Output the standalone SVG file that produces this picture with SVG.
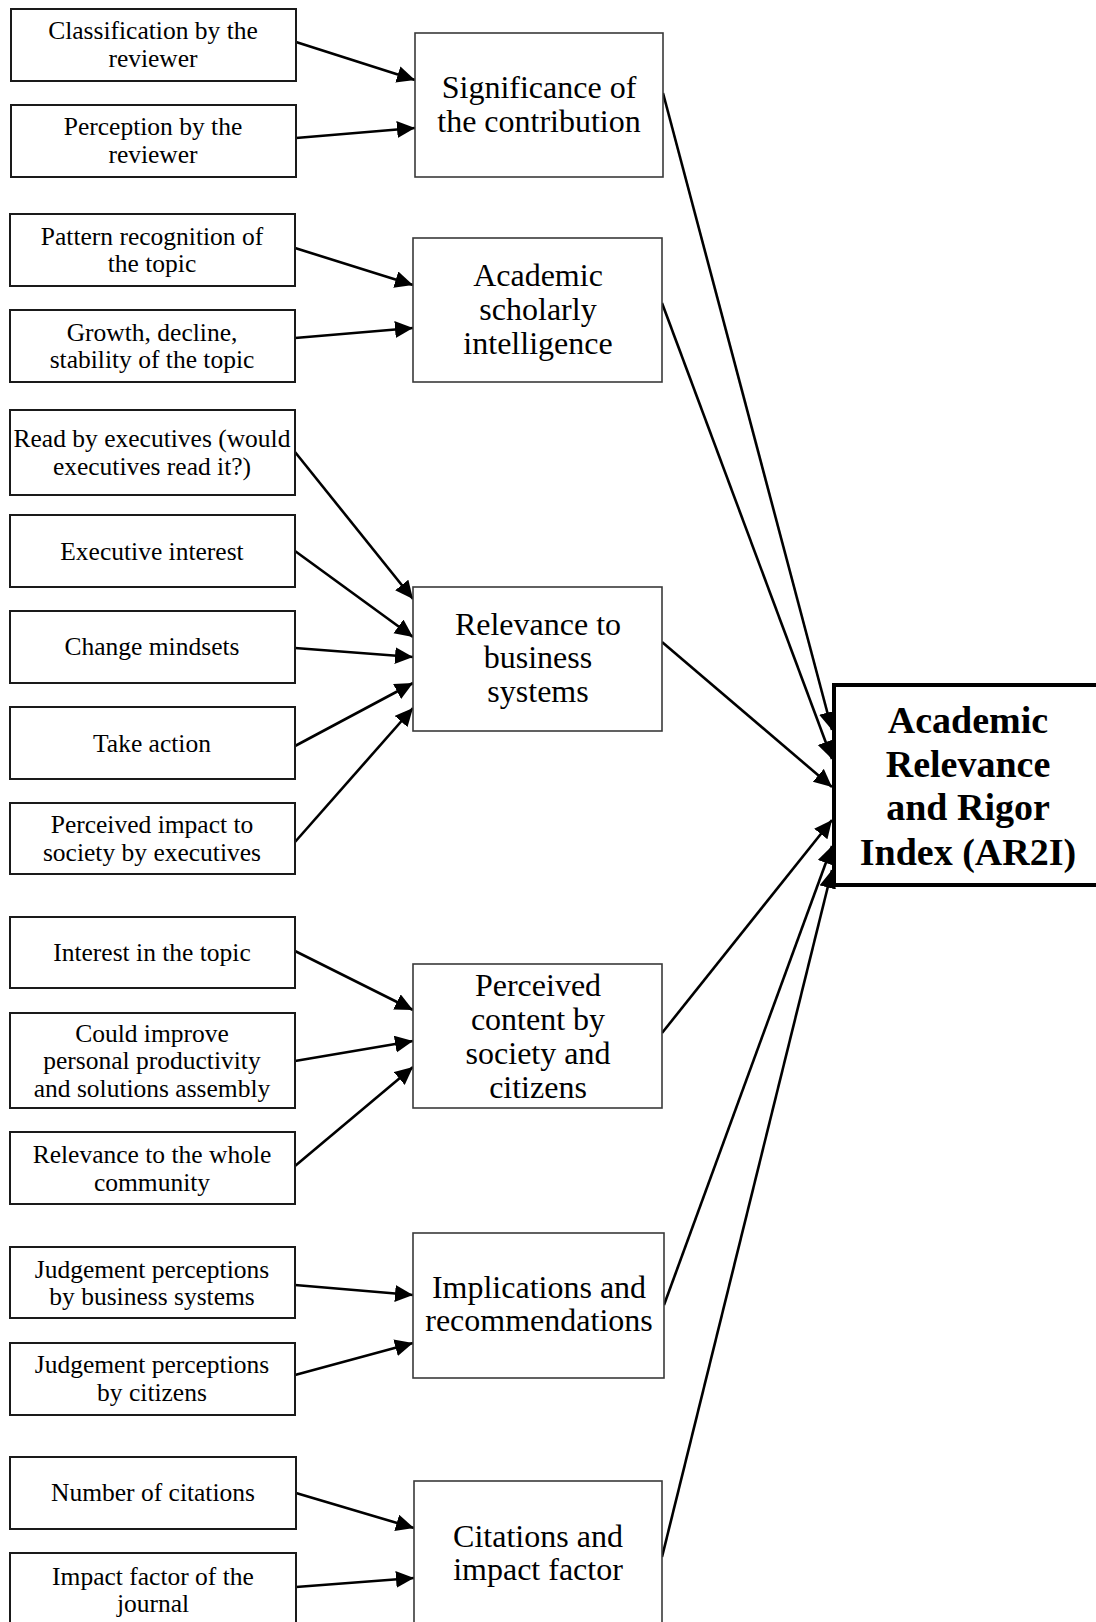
<svg xmlns="http://www.w3.org/2000/svg" width="1096" height="1622" viewBox="0 0 1096 1622">
  <style>
    .leaf { fill: #ffffff; stroke: #1a1a1a; stroke-width: 2; }
    .factor { fill: #ffffff; stroke: #3a3a3a; stroke-width: 1.6; }
    .index { fill: #ffffff; stroke: #000000; stroke-width: 4; }
    .lt { font-family: "Liberation Serif", "Times New Roman", serif; font-size: 25.5px; fill: #000; text-anchor: middle; }
    .mt { font-family: "Liberation Serif", "Times New Roman", serif; font-size: 32px; fill: #000; text-anchor: middle; }
    .it { font-family: "Liberation Serif", "Times New Roman", serif; font-size: 38px; font-weight: bold; fill: #000; text-anchor: middle; }
    .edge { stroke: #000000; stroke-width: 2.6; fill: none; marker-end: url(#head); }
  </style>
  <defs>
    <marker id="head" markerUnits="userSpaceOnUse" markerWidth="20" markerHeight="18" refX="18" refY="8.5" orient="auto">
      <path d="M0,0 L18,8.5 L0,17 z" fill="#000000"/>
    </marker>
  </defs>
  <rect width="1096" height="1622" fill="#ffffff"/>

  <!-- connectors -->
  <g id="connectors">
    <!-- into Significance of the contribution -->
    <line class="edge" x1="296" y1="42" x2="415" y2="80"/>
    <line class="edge" x1="296" y1="138" x2="415" y2="128"/>
    <!-- into Academic scholarly intelligence -->
    <line class="edge" x1="295" y1="248" x2="413" y2="285"/>
    <line class="edge" x1="295" y1="338" x2="413" y2="328"/>
    <!-- into Relevance to business systems -->
    <line class="edge" x1="295" y1="452" x2="413" y2="599"/>
    <line class="edge" x1="295" y1="551" x2="413" y2="637"/>
    <line class="edge" x1="295" y1="648" x2="413" y2="657"/>
    <line class="edge" x1="295" y1="746" x2="413" y2="683"/>
    <line class="edge" x1="295" y1="842" x2="413" y2="708"/>
    <!-- into Perceived content by society and citizens -->
    <line class="edge" x1="295" y1="951" x2="413" y2="1010"/>
    <line class="edge" x1="295" y1="1061" x2="413" y2="1041"/>
    <line class="edge" x1="295" y1="1166" x2="413" y2="1067"/>
    <!-- into Implications and recommendations -->
    <line class="edge" x1="295" y1="1285" x2="413" y2="1295"/>
    <line class="edge" x1="295" y1="1375" x2="413" y2="1343"/>
    <!-- into Citations and impact factor -->
    <line class="edge" x1="296" y1="1493" x2="414" y2="1528"/>
    <line class="edge" x1="296" y1="1587" x2="414" y2="1578"/>
    <!-- into the index -->
    <line class="edge" x1="663" y1="93" x2="832" y2="730"/>
    <line class="edge" x1="662" y1="303" x2="832" y2="759"/>
    <line class="edge" x1="662" y1="642" x2="832" y2="787"/>
    <line class="edge" x1="662" y1="1033" x2="832" y2="820"/>
    <line class="edge" x1="664" y1="1305" x2="832" y2="846"/>
    <line class="edge" x1="662" y1="1557" x2="832" y2="870"/>
  </g>

  <!-- input boxes -->
  <g id="classification-by-reviewer">
    <rect class="leaf" x="11" y="9" width="285" height="72"/>
    <text class="lt" x="153" y="39">Classification by the</text>
    <text class="lt" x="153" y="67">reviewer</text>
  </g>
  <g id="perception-by-reviewer">
    <rect class="leaf" x="11" y="105" width="285" height="72"/>
    <text class="lt" x="153" y="135">Perception by the</text>
    <text class="lt" x="153" y="163">reviewer</text>
  </g>
  <g id="pattern-recognition">
    <rect class="leaf" x="10" y="214" width="285" height="72"/>
    <text class="lt" x="152" y="245">Pattern recognition of</text>
    <text class="lt" x="152" y="272">the topic</text>
  </g>
  <g id="growth-decline">
    <rect class="leaf" x="10" y="310" width="285" height="72"/>
    <text class="lt" x="152" y="341">Growth, decline,</text>
    <text class="lt" x="152" y="368">stability of the topic</text>
  </g>
  <g id="read-by-executives">
    <rect class="leaf" x="10" y="410" width="285" height="85"/>
    <text class="lt" x="152" y="447">Read by executives (would</text>
    <text class="lt" x="152" y="475">executives read it?)</text>
  </g>
  <g id="executive-interest">
    <rect class="leaf" x="10" y="515" width="285" height="72"/>
    <text class="lt" x="152" y="560">Executive interest</text>
  </g>
  <g id="change-mindsets">
    <rect class="leaf" x="10" y="611" width="285" height="72"/>
    <text class="lt" x="152" y="655">Change mindsets</text>
  </g>
  <g id="take-action">
    <rect class="leaf" x="10" y="707" width="285" height="72"/>
    <text class="lt" x="152" y="752">Take action</text>
  </g>
  <g id="perceived-impact">
    <rect class="leaf" x="10" y="803" width="285" height="71"/>
    <text class="lt" x="152" y="833">Perceived impact to</text>
    <text class="lt" x="152" y="861">society by executives</text>
  </g>
  <g id="interest-in-topic">
    <rect class="leaf" x="10" y="917" width="285" height="71"/>
    <text class="lt" x="152" y="961">Interest in the topic</text>
  </g>
  <g id="could-improve">
    <rect class="leaf" x="10" y="1013" width="285" height="95"/>
    <text class="lt" x="152" y="1042">Could improve</text>
    <text class="lt" x="152" y="1069">personal productivity</text>
    <text class="lt" x="152" y="1097">and solutions assembly</text>
  </g>
  <g id="relevance-community">
    <rect class="leaf" x="10" y="1132" width="285" height="72"/>
    <text class="lt" x="152" y="1163">Relevance to the whole</text>
    <text class="lt" x="152" y="1191">community</text>
  </g>
  <g id="judgement-business">
    <rect class="leaf" x="10" y="1247" width="285" height="71"/>
    <text class="lt" x="152" y="1278">Judgement perceptions</text>
    <text class="lt" x="152" y="1305">by business systems</text>
  </g>
  <g id="judgement-citizens">
    <rect class="leaf" x="10" y="1343" width="285" height="72"/>
    <text class="lt" x="152" y="1373">Judgement perceptions</text>
    <text class="lt" x="152" y="1401">by citizens</text>
  </g>
  <g id="number-of-citations">
    <rect class="leaf" x="10" y="1457" width="286" height="72"/>
    <text class="lt" x="153" y="1501">Number of citations</text>
  </g>
  <g id="impact-factor-journal">
    <rect class="leaf" x="10" y="1553" width="286" height="80"/>
    <text class="lt" x="153" y="1585">Impact factor of the</text>
    <text class="lt" x="153" y="1612">journal</text>
  </g>

  <!-- factor boxes -->
  <g id="significance">
    <rect class="factor" x="415" y="33" width="248" height="144"/>
    <text class="mt" x="539" y="98">Significance of</text>
    <text class="mt" x="539" y="132">the contribution</text>
  </g>
  <g id="academic-intelligence">
    <rect class="factor" x="413" y="238" width="249" height="144"/>
    <text class="mt" x="538" y="286">Academic</text>
    <text class="mt" x="538" y="320">scholarly</text>
    <text class="mt" x="538" y="354">intelligence</text>
  </g>
  <g id="relevance-business">
    <rect class="factor" x="413" y="587" width="249" height="144"/>
    <text class="mt" x="538" y="635">Relevance to</text>
    <text class="mt" x="538" y="668">business</text>
    <text class="mt" x="538" y="702">systems</text>
  </g>
  <g id="perceived-content">
    <rect class="factor" x="413" y="964" width="249" height="144"/>
    <text class="mt" x="538" y="996">Perceived</text>
    <text class="mt" x="538" y="1030">content by</text>
    <text class="mt" x="538" y="1064">society and</text>
    <text class="mt" x="538" y="1098">citizens</text>
  </g>
  <g id="implications">
    <rect class="factor" x="413" y="1233" width="251" height="145"/>
    <text class="mt" x="539" y="1298">Implications and</text>
    <text class="mt" x="539" y="1331">recommendations</text>
  </g>
  <g id="citations-impact">
    <rect class="factor" x="414" y="1481" width="248" height="150"/>
    <text class="mt" x="538" y="1547">Citations and</text>
    <text class="mt" x="538" y="1580">impact factor</text>
  </g>

  <!-- outcome -->
  <g id="ar2i">
    <rect class="index" x="834" y="685" width="270" height="200"/>
    <text class="it" x="968" y="733">Academic</text>
    <text class="it" x="968" y="777">Relevance</text>
    <text class="it" x="968" y="820">and Rigor</text>
    <text class="it" x="968" y="865">Index (AR2I)</text>
  </g>
</svg>
